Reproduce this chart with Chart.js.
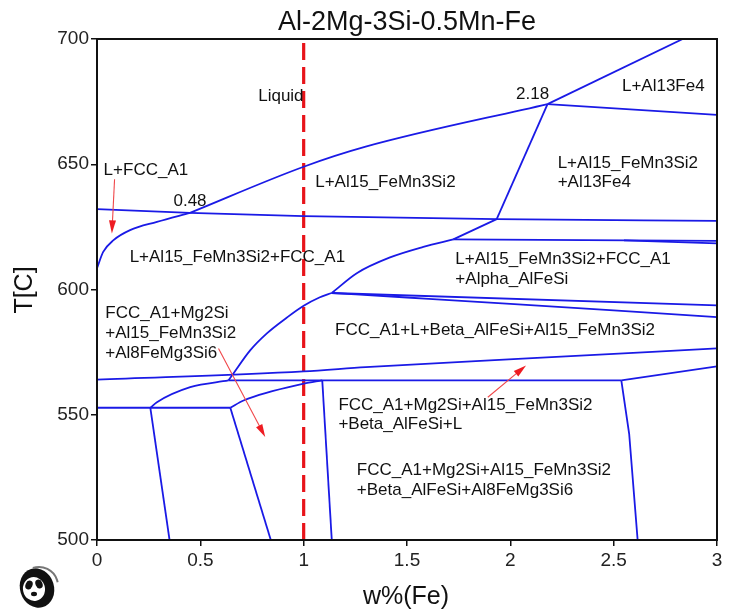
<!DOCTYPE html>
<html>
<head>
<meta charset="utf-8">
<script src="https://cdn.jsdelivr.net/npm/chart.js@4.4.1/dist/chart.umd.min.js"></script>
<style>
  html, body { margin: 0; padding: 0; background: #fff; }
  #wrap { width: 732px; height: 614px; }
</style>
</head>
<body>
<div id="wrap"><canvas id="phase" width="732" height="614"></canvas></div>
<script>
// Al-2Mg-3Si-0.5Mn-Fe isopleth, boundaries as [w%Fe, T]
const xTickValues = [0, 0.5, 1, 1.5, 2, 2.5, 3];
const xTickLabels = ['0', '0.5', '1', '1.5', '2', '2.5', '3'];
const yTickValues = [500, 550, 600, 650, 700];
const yTickLabels = ['500', '550', '600', '650', '700'];

const liquidusFcc = [[0, 608.5], [0.03, 615], [0.08, 619.7], [0.16, 623.7], [0.29, 627], [0.45, 630.6]];
const liquidusAl15 = [[0.45, 630.6], [1, 649], [1.3, 657], [2.18, 674]];
const liquidusAl13 = [[2.18, 674], [2.834, 700]];
const line632 = [[0, 632.1], [0.45, 630.6], [1, 629.3], [1.934, 628.1], [3, 627.4]];
const line670 = [[2.18, 674], [3, 669.7]];
const line218 = [[2.18, 674], [1.934, 628.1]];
const solvusLow = [[0.636, 563.7], [0.661, 566.6], [0.741, 575.7], [0.822, 582.5], [0.919, 588.8],
                   [1.0, 593.5], [1.076, 596.8], [1.136, 598.6]];
const solvusMid = [[1.136, 598.6], [1.257, 606.5], [1.418, 612.8], [1.579, 617], [1.724, 620]];
const solvusTop = [[1.724, 620], [1.934, 628.1]];
const line620a = [[1.724, 620], [3, 619.4]];
const line620b = [[2.55, 619.6], [3, 618.4]];
const line598a = [[1.136, 598.6], [3, 593.7]];
const line598b = [[1.136, 598.6], [1.5, 596.8], [2.0, 594.3], [2.5, 591.7], [3, 589]];
const line565 = [[0, 564], [1, 567.3], [1.3, 569], [2.06, 572.4], [3, 576.5]];
const line564 = [[0.636, 563.7], [2.537, 563.7]];
const line564r = [[2.537, 563.7], [3, 569.3]];
const vertRight = [[2.537, 563.7], [2.575, 542.4], [2.616, 500]];
const line553 = [[0, 552.8], [0.645, 552.8]];
const curveLeft = [[0.258, 552.8], [0.29, 555], [0.451, 561], [0.636, 563.7]];
const curveMid = [[0.645, 552.8], [0.709, 555.7], [1.0, 562.4], [1.09, 563.7]];
const vertA = [[0.258, 552.8], [0.351, 500]];
const vertB = [[0.645, 552.8], [0.841, 500]];
const vertC = [[1.09, 563.7], [1.136, 500]];
const alloyLine = [[1, 500], [1, 700]];

const phaseLabels = [
  ['Liquid', 0.78, 677],
  ['L+FCC_A1', 0.032, 647.4],
  ['0.48', 0.37, 635.3],
  ['L+Al15_FeMn3Si2+FCC_A1', 0.158, 613],
  ['L+Al15_FeMn3Si2', 1.056, 642.6],
  ['2.18', 2.028, 678],
  ['L+Al13Fe4', 2.54, 681],
  ['L+Al15_FeMn3Si2', 2.229, 650.4],
  ['+Al13Fe4', 2.229, 642.6],
  ['L+Al15_FeMn3Si2+FCC_A1', 1.734, 612],
  ['+Alpha_AlFeSi', 1.734, 604],
  ['FCC_A1+Mg2Si', 0.04, 590.4],
  ['+Al15_FeMn3Si2', 0.04, 582.4],
  ['+Al8FeMg3Si6', 0.04, 574.6],
  ['FCC_A1+L+Beta_AlFeSi+Al15_FeMn3Si2', 1.152, 583.7],
  ['FCC_A1+Mg2Si+Al15_FeMn3Si2', 1.168, 553.7],
  ['+Beta_AlFeSi+L', 1.168, 546.1],
  ['FCC_A1+Mg2Si+Al15_FeMn3Si2', 1.257, 527.7],
  ['+Beta_AlFeSi+Al8FeMg3Si6', 1.257, 519.7]
];

const arrowLines = [
  [[0.085, 644], [0.072, 622.4]],
  [[0.588, 576.4], [0.814, 541.1]],
  [[1.891, 557], [2.076, 569.7]]
];

const BLUE = '#1a1ae6';
const FONT = '"Liberation Sans", Arial, sans-serif';

function toPts(arr) { return arr.map(p => ({ x: p[0], y: p[1] })); }

function boundary(arr, curved) {
  return {
    data: toPts(arr), showLine: true, pointRadius: 0, borderColor: BLUE, borderWidth: 1.8,
    cubicInterpolationMode: curved ? 'monotone' : 'default', tension: curved ? 0.4 : 0
  };
}

const datasets = [
  boundary(liquidusFcc, true), boundary(liquidusAl15, true), boundary(liquidusAl13),
  boundary(line632, true), boundary(line670), boundary(line218),
  boundary(solvusLow, true), boundary(solvusMid, true), boundary(solvusTop),
  boundary(line620a), boundary(line620b),
  boundary(line598a), boundary(line598b, true), boundary(line565, true),
  boundary(line564), boundary(line564r), boundary(vertRight),
  boundary(line553), boundary(curveLeft, true), boundary(curveMid, true),
  boundary(vertA), boundary(vertB), boundary(vertC),
  { data: toPts(alloyLine), showLine: true, pointRadius: 0, borderColor: '#e8141a', borderWidth: 3.2, borderDash: [17, 7] }
];

function drawArrow(ctx, x0, y0, x1, y1) {
  const ang = Math.atan2(y1 - y0, x1 - x0), len = 13, half = 3.5;
  ctx.beginPath(); ctx.moveTo(x0, y0); ctx.lineTo(x1 - Math.cos(ang) * len * 0.8, y1 - Math.sin(ang) * len * 0.8); ctx.stroke();
  ctx.beginPath();
  ctx.moveTo(x1, y1);
  ctx.lineTo(x1 - Math.cos(ang) * len + Math.sin(ang) * half, y1 - Math.sin(ang) * len - Math.cos(ang) * half);
  ctx.lineTo(x1 - Math.cos(ang) * len - Math.sin(ang) * half, y1 - Math.sin(ang) * len + Math.cos(ang) * half);
  ctx.closePath(); ctx.fill();
}

function drawPanda(ctx, cx, cy) {
  ctx.save();
  ctx.fillStyle = '#111';
  ctx.beginPath(); ctx.ellipse(cx, cy, 17, 20, -0.3, 0, Math.PI * 2); ctx.fill();
  ctx.fillStyle = '#fff';
  ctx.beginPath(); ctx.ellipse(cx - 3, cy + 1, 11, 12, -0.2, 0, Math.PI * 2); ctx.fill();
  ctx.fillStyle = '#111';
  ctx.beginPath(); ctx.ellipse(cx - 8, cy - 3, 3.5, 4.5, 0.4, 0, Math.PI * 2); ctx.fill();
  ctx.beginPath(); ctx.ellipse(cx + 2, cy - 4, 3.5, 4.5, -0.4, 0, Math.PI * 2); ctx.fill();
  ctx.beginPath(); ctx.ellipse(cx - 3, cy + 6, 3, 2.2, 0, 0, Math.PI * 2); ctx.fill();
  ctx.strokeStyle = '#777'; ctx.lineWidth = 2;
  ctx.beginPath(); ctx.arc(cx + 2, cy - 2, 19, -1.9, -0.2); ctx.stroke();
  ctx.restore();
}

const overlay = {
  id: 'overlay',
  afterDatasetsDraw(chart) {
    const { ctx, chartArea: a, scales: { x, y } } = chart;
    ctx.save();
    ctx.strokeStyle = '#111'; ctx.lineWidth = 2;
    ctx.strokeRect(a.left, a.top, a.right - a.left, a.bottom - a.top);

    ctx.strokeStyle = '#f0474a'; ctx.fillStyle = '#ee1c22'; ctx.lineWidth = 1.1;
    arrowLines.forEach(([p, q]) => drawArrow(ctx, x.getPixelForValue(p[0]), y.getPixelForValue(p[1]),
                                                  x.getPixelForValue(q[0]), y.getPixelForValue(q[1])));

    ctx.fillStyle = '#111'; ctx.textBaseline = 'middle'; ctx.textAlign = 'left';
    ctx.font = '17px ' + FONT;
    phaseLabels.forEach(([t, lx, ly]) => ctx.fillText(t, x.getPixelForValue(lx), y.getPixelForValue(ly)));

    ctx.textAlign = 'center'; ctx.textBaseline = 'alphabetic';
    ctx.font = '27px ' + FONT;
    ctx.fillText('Al-2Mg-3Si-0.5Mn-Fe', (a.left + a.right) / 2, 30);
    ctx.font = '25px ' + FONT; ctx.textBaseline = 'middle';
    ctx.fillText('w%(Fe)', 406, 597);
    ctx.save(); ctx.translate(25, 290); ctx.rotate(-Math.PI / 2); ctx.fillText('T[C]', 0, 0); ctx.restore();

    drawPanda(ctx, 37, 588);
    ctx.restore();
  }
};

const axisCommon = {
  type: 'linear',
  border: { display: true, color: '#111', width: 2 },
  grid: { drawOnChartArea: false, drawTicks: true, tickLength: 6, color: '#111', lineWidth: 1.5 },
};

new Chart(document.getElementById('phase'), {
  type: 'scatter',
  data: { datasets },
  options: {
    responsive: false, animation: false, devicePixelRatio: 1,
    layout: { padding: { top: 39, right: 15, left: 0, bottom: 0 } },
    plugins: { legend: { display: false }, tooltip: { enabled: false }, title: { display: false } },
    scales: {
      x: {
        ...axisCommon, min: 0, max: 3,
        afterBuildTicks: s => { s.ticks = xTickValues.map(v => ({ value: v })); },
        afterFit: s => { s.height = 74; },
        ticks: { color: '#222', font: { family: FONT, size: 19 }, padding: 3, maxRotation: 0,
                 callback: (v, i) => xTickLabels[i] }
      },
      y: {
        ...axisCommon, min: 500, max: 700,
        afterBuildTicks: s => { s.ticks = yTickValues.map(v => ({ value: v })); },
        afterFit: s => { s.width = 97; },
        ticks: { color: '#222', font: { family: FONT, size: 19 }, padding: 2,
                 callback: (v, i) => yTickLabels[i] }
      }
    }
  },
  plugins: [overlay]
});
</script>
</body>
</html>
